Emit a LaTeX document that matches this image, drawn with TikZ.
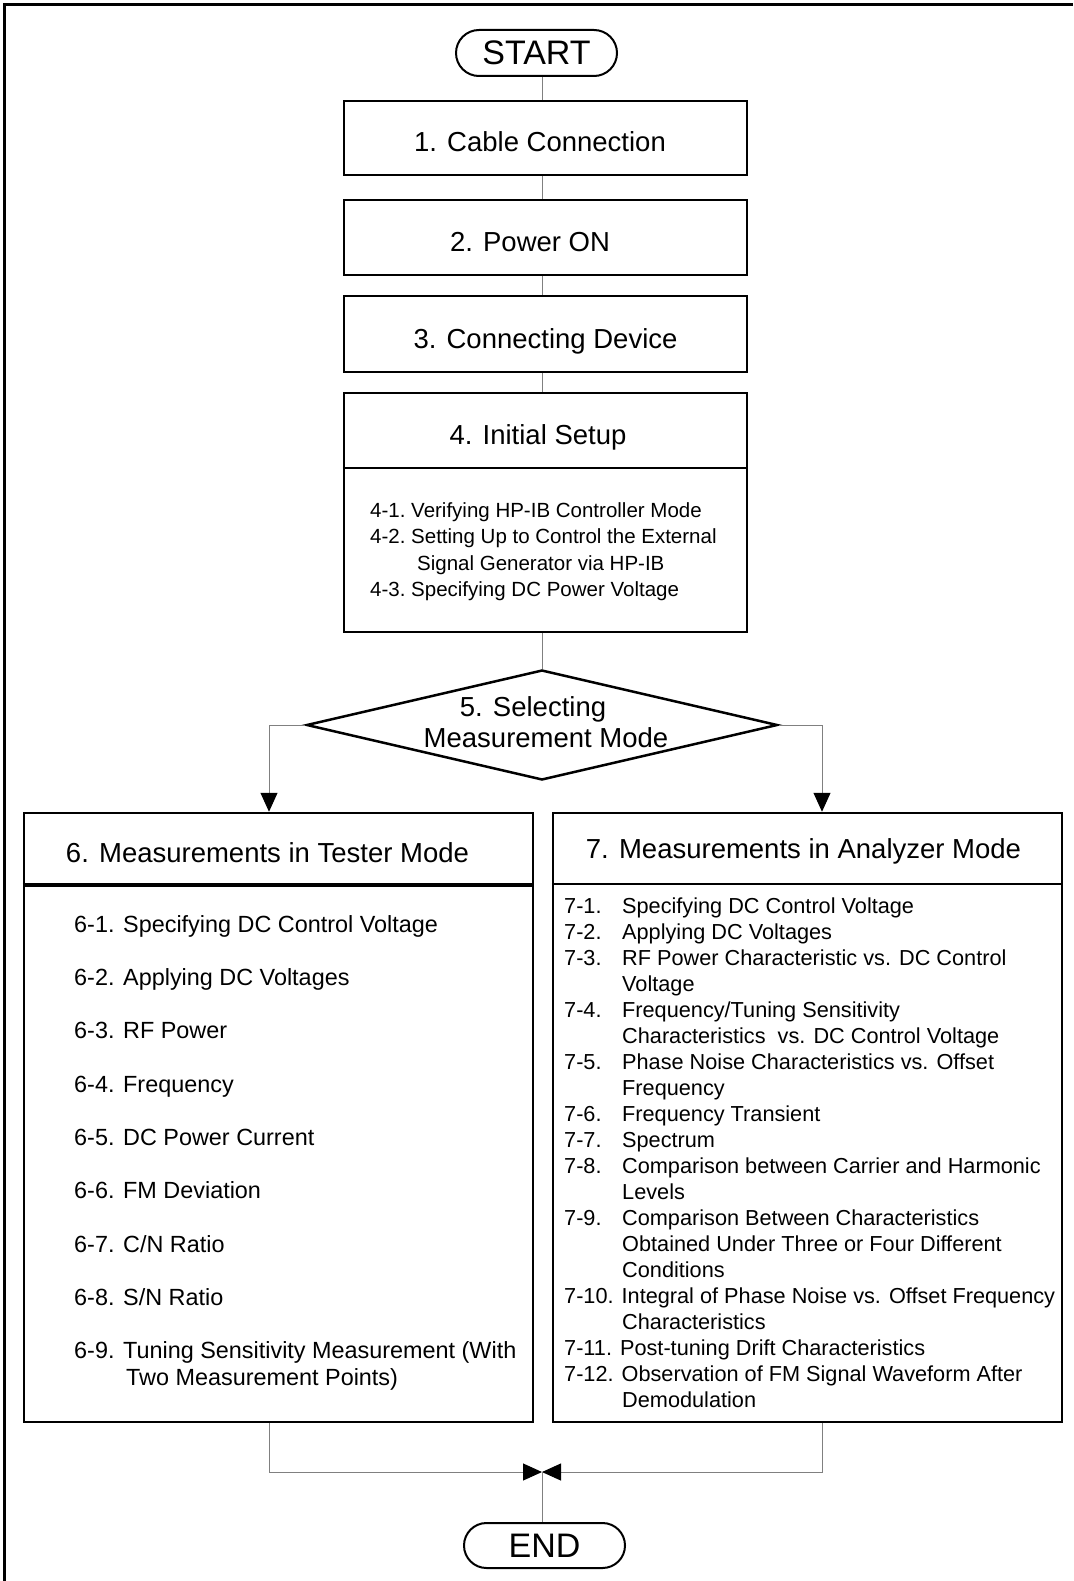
\documentclass[tikz,border=0pt]{standalone}
\usepackage{fontspec}
\setmainfont{Liberation Sans}
\usetikzlibrary{shapes.geometric,shapes.misc,arrows.meta}
\begin{document}
\begin{tikzpicture}[x=1pt,y=-1pt,
  box/.style={draw,line width=2.5pt,inner sep=0pt,minimum width=403pt,text height=28pt,text depth=0pt,font=\fontsize{27.5}{33}\selectfont},
  bigbox/.style={draw,line width=2.5pt,inner sep=0pt,minimum width=509pt,minimum height=609pt},
  term/.style={draw,line width=2pt,rounded rectangle,minimum width=161pt,minimum height=46pt,inner sep=0pt,font=\fontsize{34}{40}\selectfont},
  head/.style={inner sep=0pt,font=\fontsize{27.5}{33}\selectfont},
  conn/.style={draw=black!50,line width=1pt},
  arr/.style={conn,-{Triangle[length=19pt,width=17pt,color=black,fill=black]}},
  tlist/.style={inner sep=0pt,anchor=base west,font=\fontsize{23.4}{26.7}\selectfont},
]
\useasboundingbox (0,0) rectangle (1073,1581);
% outer frame (top and left edges only)
\draw[line width=3pt] (4.5,1581) -- (4.5,5) -- (1073,5);

\coordinate (cx) at (542,0);

\node[term] (start) at (536.5,53) {START};
\node[box,minimum height=74pt] (b1) at (545.5,138) {1. Cable Connection\hspace*{11pt}};
\node[box,minimum height=75pt] (b2) at (545.5,237.5) {2. Power ON\hspace*{31pt}};
\node[box,minimum height=76pt] (b3) at (545.5,334) {3. Connecting Device};
\node[box,minimum height=239pt] (b4) at (545.5,512.5) {};
\draw[line width=2.5pt] (b4.west |- 0,468) -- (b4.east |- 0,468);
\node[head] (b4h) at (538,437) {4. Initial Setup};
\node[inner sep=0pt,anchor=base west,font=\fontsize{20.5}{26.5}\selectfont] (b4l) at (370,517.3)
  {\frenchspacing\begin{tabular}[t]{@{}l@{}}
   4-1. Verifying HP-IB Controller Mode\\
   4-2. Setting Up to Control the External\\
   \hspace*{47pt}Signal Generator via HP-IB\\
   4-3. Specifying DC Power Voltage
   \end{tabular}};

\node[diamond,draw,line width=2.5pt,inner sep=0pt,minimum width=471pt,minimum height=110pt] (d) at (542,725) {};
\node[inner sep=0pt,font=\fontsize{27.5}{31}\selectfont] (dt) at (546,726)
  {\begin{tabular}{@{}c@{}}5. Selecting\hspace*{26pt}\\Measurement Mode\end{tabular}};

% tester mode box
\node[bigbox] (b6) at (278.5,1117.5) {};
\draw[line width=4pt] (b6.west |- 0,885) -- (b6.east |- 0,885);
\node[head] (b6h) at (267.5,853) {6. Measurements in Tester Mode};
\node[tlist] (t1) at (74,932) {6-1. Specifying DC Control Voltage};
\node[tlist] (t2) at (74,985.3) {6-2. Applying DC Voltages};
\node[tlist] (t3) at (74,1038.7) {6-3. RF Power};
\node[tlist] (t4) at (74,1092) {6-4. Frequency};
\node[tlist] (t5) at (74,1145.3) {6-5. DC Power Current};
\node[tlist] (t6) at (74,1198.7) {6-6. FM Deviation};
\node[tlist] (t7) at (74,1252) {6-7. C/N Ratio};
\node[tlist] (t8) at (74,1305.3) {6-8. S/N Ratio};
\node[tlist] (t9) at (74,1358.7)
  {\begin{tabular}[t]{@{}l@{}}6-9. Tuning Sensitivity Measurement (With\\
   \hspace*{52pt}Two Measurement Points)\end{tabular}};

% analyzer mode box
\node[bigbox] (b7) at (807.5,1117.5) {};
\draw[line width=2.5pt] (b7.west |- 0,884) -- (b7.east |- 0,884);
\node[head] (b7h) at (803.5,851) {7. Measurements in Analyzer Mode};
\node[inner sep=0pt,anchor=base west,font=\fontsize{21.7}{26}\selectfont] (al) at (564,913)
  {\begin{tabular}[t]{@{}p{58pt}@{}l@{}}
   7-1. & Specifying DC Control Voltage\\
   7-2. & Applying DC Voltages\\
   7-3. & RF Power Characteristic vs. DC Control\\
        & Voltage\\
   7-4. & Frequency/Tuning Sensitivity\\
        & Characteristics\ \ vs. DC Control Voltage\\
   7-5. & Phase Noise Characteristics vs. Offset\\
        & Frequency\\
   7-6. & Frequency Transient\\
   7-7. & Spectrum\\
   7-8. & Comparison between Carrier and Harmonic\\
        & Levels\\
   7-9. & Comparison Between Characteristics\\
        & Obtained Under Three or Four Different\\
        & Conditions\\
   \multicolumn{2}{@{}l@{}}{7-10. Integral of Phase Noise vs. Offset Frequency}\\
        & Characteristics\\
   \multicolumn{2}{@{}l@{}}{7-11. Post-tuning Drift Characteristics}\\
   \multicolumn{2}{@{}l@{}}{7-12. Observation of FM Signal Waveform After}\\
        & Demodulation
   \end{tabular}};

\node[term,minimum height=45pt] (end) at (544.5,1545.5) {END};

% connectors
\draw[conn] (start.south -| cx) -- (b1.north -| cx);
\draw[conn] (b1.south -| cx) -- (b2.north -| cx);
\draw[conn] (b2.south -| cx) -- (b3.north -| cx);
\draw[conn] (b3.south -| cx) -- (b4.north -| cx);
\draw[conn] (b4.south -| cx) -- (d.north);
\coordinate (lx) at (269,0);
\coordinate (rx) at (822,0);
\draw[arr] (d.west) -| (b6.north -| lx);
\draw[arr] (d.east) -| (b7.north -| rx);
\coordinate (m) at (542,1472);
\draw[arr] (b6.south -| lx) |- (m);
\draw[arr] (b7.south -| rx) |- (m);
\draw[conn] (m) -- (end.north -| m);
\end{tikzpicture}
\end{document}
